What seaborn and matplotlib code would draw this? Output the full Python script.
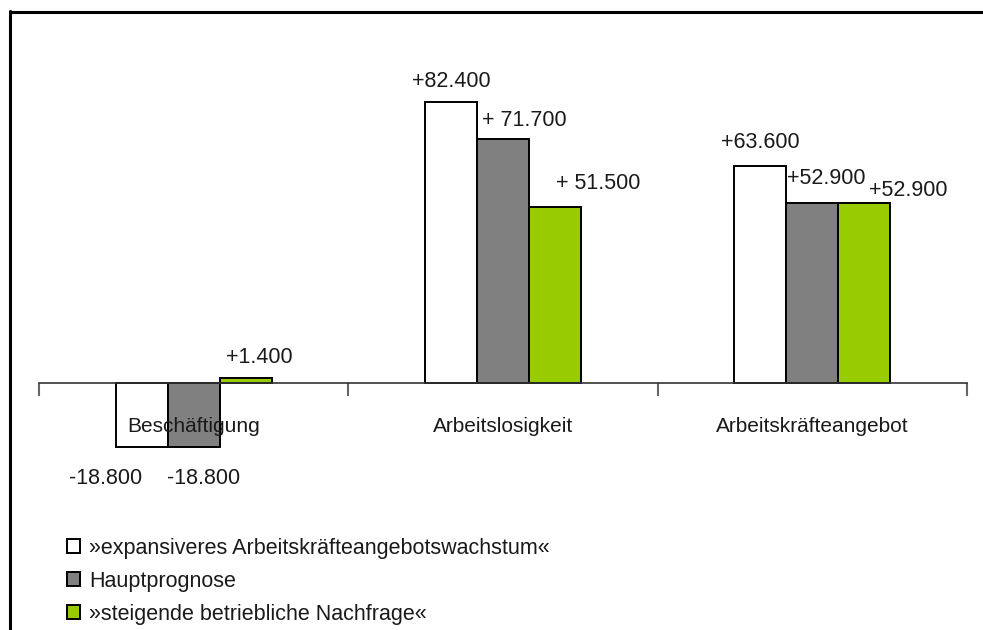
import matplotlib
matplotlib.use("Agg")
import matplotlib.pyplot as plt
from matplotlib.lines import Line2D
from matplotlib.patches import Patch
import seaborn as sns
import pandas as pd

# Changes in thousands of persons per scenario
categories = ["Beschäftigung", "Arbeitslosigkeit", "Arbeitskräfteangebot"]
series = [
    "»expansiveres Arbeitskräfteangebotswachstum«",
    "Hauptprognose",
    "»steigende betriebliche Nachfrage«",
]
expansiv = [-18.8, 82.4, 63.6]
haupt = [-18.8, 71.7, 52.9]
nachfrage = [1.4, 51.5, 52.9]
# sign prefix used in the value labels (some carry a space after "+")
prefixes = [["", "+", "+"], ["", "+ ", "+"], ["+", "+ ", "+"]]

colors = ["#FFFFFF", "#808080", "#99CC00"]

# label offsets in pixels relative to the bar end (dx, dy of baseline)
offsets = [
    [(-36, -37), (0, 15), (0, 18)],
    [(10, -37), (21, 13), (14, 19)],
    [(14, 15), (43, 18), (44, 7)],
]

values = [expansiv, haupt, nachfrage]
rows = []
for s, vals in zip(series, values):
    for c, v in zip(categories, vals):
        rows.append({"Kategorie": c, "Szenario": s, "Wert": v})
df = pd.DataFrame(rows)

sns.set_style("white")
plt.rcParams["font.family"] = ["Liberation Sans", "DejaVu Sans"]

fig = plt.figure(figsize=(9.83, 6.3), dpi=100)
W, H = 983, 630
y0_px, scale = 383, 3.41
ylim = (-25, 90)
top_px = y0_px - ylim[1] * scale
bot_px = y0_px - ylim[0] * scale
ax = fig.add_axes([39 / W, (H - bot_px) / H, 928 / W, (bot_px - top_px) / H])

sns.barplot(
    data=df, x="Kategorie", y="Wert", hue="Szenario",
    order=categories, hue_order=series, palette=colors,
    width=0.505, edgecolor="black", linewidth=1.4, ax=ax, legend=False,
    saturation=1,
)

ax.set_xlim(-0.5, 2.5)
ax.set_ylim(*ylim)
for sp in ["left", "right", "top"]:
    ax.spines[sp].set_visible(False)
ax.spines["bottom"].set_position(("data", 0))
ax.spines["bottom"].set_color("#333333")
ax.spines["bottom"].set_linewidth(1.2)
ax.set_yticks([])
ax.set_xticks([-0.5, 0.5, 1.5, 2.5])
ax.set_xticklabels([])
ax.tick_params(axis="x", bottom=True, direction="out", length=9, width=1.5,
               color="#666666")
ax.set_xlabel("")
ax.set_ylabel("")

# category names below the axis line
for i, c in enumerate(categories):
    ax.annotate(c, xy=(i, 0), xytext=(0, -49), textcoords="offset pixels",
                ha="center", va="baseline", fontsize=15, color="#1a1a1a",
                zorder=5)

# value labels
containers = ax.containers
for si, cont in enumerate(containers):
    for ci, bar in enumerate(cont):
        v = values[si][ci]
        x = bar.get_x() + bar.get_width() / 2
        txt = prefixes[si][ci] + f"{v:.3f}"
        dx, dy = offsets[si][ci]
        ax.annotate(txt, xy=(x, v), xytext=(dx, dy), textcoords="offset pixels",
                    ha="center", va="baseline", fontsize=15.5, color="#1a1a1a",
                    zorder=5)

# legend
handles = [Patch(facecolor=col, edgecolor="black", linewidth=1.4) for col in colors]
fig.legend(handles, series, loc="upper left",
           bbox_to_anchor=(67 / W, 1 - 538 / H), frameon=False,
           fontsize=15.5, handlelength=0.62, handleheight=0.62,
           handletextpad=0.4, labelspacing=0.55, borderpad=0,
           borderaxespad=0, labelcolor="#1a1a1a")

# outer frame (left and top edges)
fig.add_artist(Line2D([10 / W, 10 / W], [0, 1 - 11 / H], color="black",
                      linewidth=2.2, transform=fig.transFigure))
fig.add_artist(Line2D([10 / W, 1], [1 - 12 / H, 1 - 12 / H], color="black",
                      linewidth=2.2, transform=fig.transFigure))

fig.savefig("out.png", dpi=100, facecolor="white")
